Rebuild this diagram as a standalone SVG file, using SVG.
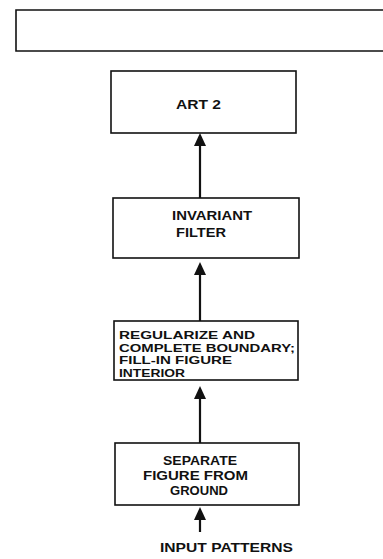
<svg xmlns="http://www.w3.org/2000/svg" width="383" height="559" viewBox="0 0 383 559">
<defs>
<style>
.box{fill:#fff;stroke:#111;stroke-width:1.6}
.ln{stroke:#111;stroke-width:2.2;fill:none}
.hd{fill:#111}
text{font-family:"Liberation Sans",Arial,sans-serif;fill:#111;font-weight:bold}
.b{font-size:13px}
.n{font-size:10.8px}
</style>
</defs>
<rect width="383" height="559" fill="#fff"/>
<g id="top-box"><path class="box" d="M384,10 H16 V51 H384"/></g>
<g id="art2"><rect class="box" x="111" y="71" width="185" height="62"/><text class="b" x="176" y="109" textLength="45" lengthAdjust="spacingAndGlyphs">ART 2</text></g>
<g id="invariant"><rect class="box" x="113" y="198" width="186" height="60"/><text class="b" x="172" y="220" textLength="80" lengthAdjust="spacingAndGlyphs">INVARIANT</text><text class="b" x="176" y="237" textLength="50" lengthAdjust="spacingAndGlyphs">FILTER</text></g>
<g id="regularize"><rect class="box" x="114" y="321" width="184" height="59"/>
<text class="n" x="119" y="339" textLength="136" lengthAdjust="spacingAndGlyphs">REGULARIZE  AND</text>
<text class="n" x="119" y="351.5" textLength="176" lengthAdjust="spacingAndGlyphs">COMPLETE  BOUNDARY;</text>
<text class="n" x="119" y="364" textLength="113" lengthAdjust="spacingAndGlyphs">FILL-IN FIGURE</text>
<text class="n" x="119" y="376.5" textLength="66" lengthAdjust="spacingAndGlyphs">INTERIOR</text></g>
<g id="separate"><rect class="box" x="115" y="443" width="184" height="62"/>
<text class="b" x="163" y="465" textLength="74" lengthAdjust="spacingAndGlyphs">SEPARATE</text>
<text class="b" x="143" y="480" textLength="105" lengthAdjust="spacingAndGlyphs">FIGURE  FROM</text>
<text class="b" x="170" y="495" textLength="58" lengthAdjust="spacingAndGlyphs">GROUND</text></g>
<g id="input"><text class="b" x="160" y="552" textLength="133" lengthAdjust="spacingAndGlyphs">INPUT PATTERNS</text></g>
<g id="connectors">
<line class="ln" x1="200" y1="198" x2="200" y2="143"/><path class="hd" d="M200,133 L206,146 L194,146 Z"/>
<line class="ln" x1="200" y1="321" x2="200" y2="272"/><path class="hd" d="M200,262 L206,275 L194,275 Z"/>
<line class="ln" x1="200" y1="443" x2="200" y2="396"/><path class="hd" d="M200,386 L206,399 L194,399 Z"/>
<line class="ln" x1="200" y1="532" x2="200" y2="517"/><path class="hd" d="M200,507 L206,520 L194,520 Z"/>
</g>
</svg>
